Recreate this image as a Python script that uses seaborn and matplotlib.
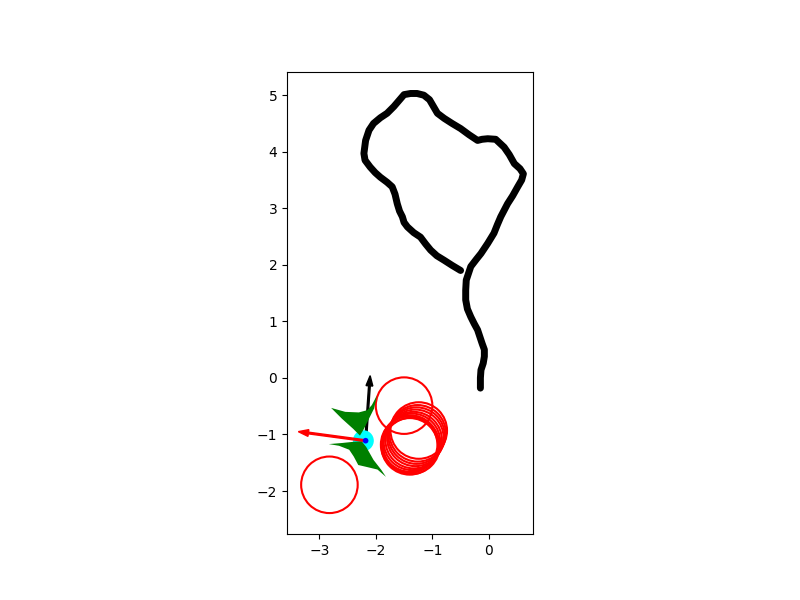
import numpy as np
import matplotlib
matplotlib.use("Agg")
import matplotlib.pyplot as plt
import seaborn as sns
from matplotlib.patches import Circle, Polygon

# trajectory (x, y) in drawing order
path_x = [-0.15, -0.15, -0.14, -0.10, -0.08, -0.08, -0.12, -0.20, -0.26, -0.32, -0.38, -0.41,
          -0.41, -0.40, -0.32, -0.22, -0.14, -0.02, 0.09, 0.15, 0.21, 0.33, 0.42, 0.51, 0.58,
          0.61, 0.55, 0.45, 0.36, 0.27, 0.12, -0.02, -0.12, -0.20, -0.35, -0.50, -0.65, -0.79,
          -0.91, -0.98, -1.05, -1.15, -1.27, -1.385, -1.50, -1.56, -1.68, -1.80, -1.92, -2.04,
          -2.12, -2.18, -2.21, -2.19, -2.10, -2.01, -1.92, -1.80, -1.71, -1.66, -1.62, -1.58,
          -1.53, -1.50, -1.44, -1.33, -1.21, -1.12, -1.03, -0.92, -0.79, -0.65, -0.50]
path_y = [-0.18, 0.00, 0.14, 0.26, 0.38, 0.50, 0.61, 0.85, 0.96, 1.08, 1.22, 1.38,
          1.55, 1.73, 1.97, 2.10, 2.20, 2.38, 2.56, 2.71, 2.85, 3.08, 3.22, 3.38, 3.50,
          3.61, 3.70, 3.79, 3.95, 4.08, 4.22, 4.23, 4.22, 4.20, 4.30, 4.41, 4.50, 4.59,
          4.68, 4.80, 4.92, 5.00, 5.03, 5.03, 5.01, 4.94, 4.80, 4.68, 4.60, 4.50,
          4.38, 4.20, 3.97, 3.85, 3.73, 3.63, 3.55, 3.46, 3.38, 3.25, 3.08, 2.95,
          2.85, 2.75, 2.67, 2.57, 2.49, 2.37, 2.26, 2.16, 2.08, 1.99, 1.90]

# obstacles (centre x, centre y), radius
obs_x = [-1.50, -2.82, -1.24, -1.26, -1.28, -1.30, -1.33, -1.36, -1.39, -1.41, -1.40, -1.37]
obs_y = [-0.49, -1.89, -0.93, -0.98, -1.02, -1.06, -1.10, -1.13, -1.16, -1.18, -1.21, -1.20]
obs_r = 0.5

# robot body: two green wedges
wing1_x = [-2.79, -2.54, -2.30, -2.15, -2.07, -1.98, -2.03, -2.13, -2.22, -2.28, -2.40, -2.60]
wing1_y = [-0.53, -0.60, -0.61, -0.57, -0.48, -0.31, -0.54, -0.74, -0.92, -1.02, -0.90, -0.72]
wing2_x = [-2.83, -2.59, -2.40, -2.25, -2.17, -2.04, -1.90, -1.82, -1.97, -2.18, -2.31, -2.39, -2.47, -2.65]
wing2_y = [-1.17, -1.15, -1.13, -1.12, -1.22, -1.45, -1.63, -1.75, -1.62, -1.57, -1.54, -1.39, -1.27, -1.20]

body_x, body_y, body_r = -2.22, -1.11, 0.185
robot_x, robot_y = -2.18, -1.11
heading = (0.08, 1.15)     # black arrow
velocity = (-1.19, 0.16)   # red arrow

plt.figure(figsize=(8, 6), dpi=100)
ax = plt.gca()

sns.lineplot(x=path_x, y=path_y, sort=False, estimator=None, color="black",
             lw=5, solid_capstyle="round", solid_joinstyle="round", ax=ax)

for cx, cy in zip(obs_x, obs_y):
    ax.add_patch(Circle((cx, cy), obs_r, fill=False, ec="red", lw=1.5))

ax.arrow(robot_x, robot_y, heading[0], heading[1], width=0.03, head_width=0.12,
         head_length=0.18, length_includes_head=True, color="black", zorder=3)
ax.add_patch(Circle((body_x, body_y), body_r, color="cyan", lw=0, zorder=3.5))
ax.add_patch(Polygon(np.column_stack([wing1_x, wing1_y]), closed=True, color="green", lw=0, zorder=4))
ax.add_patch(Polygon(np.column_stack([wing2_x, wing2_y]), closed=True, color="green", lw=0, zorder=4))
ax.arrow(robot_x, robot_y, velocity[0], velocity[1], width=0.03, head_width=0.12,
         head_length=0.18, length_includes_head=True, color="red", zorder=5)
ax.add_patch(Circle((robot_x, robot_y), 0.05, color="blue", lw=0, zorder=7))

ax.set_aspect("equal")
ax.set_xlim(-3.57, 0.78)
ax.set_ylim(-2.76, 5.41)
ax.set_xticks([-3, -2, -1, 0])
ax.set_yticks([-2, -1, 0, 1, 2, 3, 4, 5])

plt.savefig("out.png", dpi=100)
